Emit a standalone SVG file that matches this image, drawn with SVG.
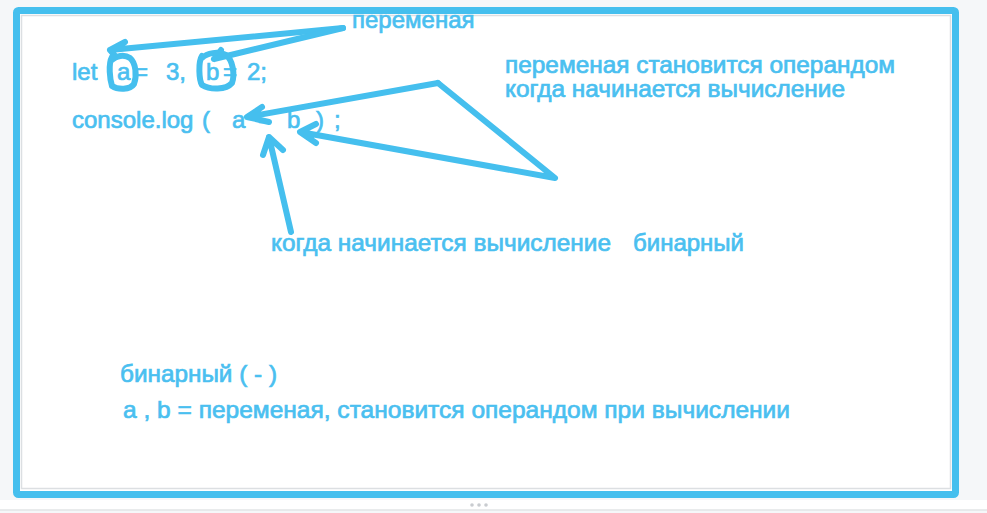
<svg xmlns="http://www.w3.org/2000/svg" width="987" height="513" viewBox="0 0 987 513">
<style>
.t{font-family:"Liberation Sans",Arial,sans-serif;font-size:24px;fill:#4abff0;stroke:#4abff0;stroke-width:0.7px}
.s{font-size:23px}
.c{fill:none;stroke:#45bfee;stroke-width:6;stroke-linecap:round;stroke-linejoin:round}
</style>
<rect x="0" y="0" width="987" height="513" fill="#f5f7f9"/>
<rect x="0" y="500" width="987" height="10" fill="#ffffff"/>
<line x1="0" y1="510" x2="987" y2="510" stroke="#e2e4e6" stroke-width="1.5"/>
<g fill="#c9ccd0"><circle cx="472" cy="505" r="1.8"/><circle cx="479" cy="505" r="1.8"/><circle cx="486" cy="505" r="1.8"/></g>
<g id="frame">
<rect x="16.5" y="10.5" width="939" height="484" rx="2" fill="#ffffff" stroke="#45bfee" stroke-width="7"/>
<rect x="21.5" y="15.5" width="929" height="473" fill="none" stroke="#dcdfe2" stroke-width="1.5"/>
</g>
<g id="label-peremennaya"><text class="t" x="352" y="28">переменая</text></g>
<g id="code-line1">
<text class="t" x="72" y="80">let</text>
<text class="t" x="117" y="80">a</text>
<text class="t" x="134" y="80">=</text>
<text class="t" x="166" y="80">3,</text>
<text class="t" x="206" y="80">b</text>
<text class="t" x="223" y="80">=</text>
<text class="t" x="247" y="80">2;</text>
</g>
<g id="code-line2">
<text class="t" x="72" y="128">console.log</text>
<text class="t" x="202" y="128">(</text>
<text class="t" x="232" y="128">a</text>
<text class="t" x="258" y="128">-</text>
<text class="t" x="287" y="128">b</text>
<text class="t" x="316" y="128">)</text>
<text class="t" x="334" y="128">;</text>
</g>
<g id="label-operand">
<text class="t s" x="505" y="73" textLength="390" lengthAdjust="spacingAndGlyphs">переменая становится операндом</text>
<text class="t s" x="505" y="97" textLength="340" lengthAdjust="spacingAndGlyphs">когда начинается вычисление</text>
</g>
<g id="label-binary">
<text class="t" x="271" y="251" textLength="340" lengthAdjust="spacingAndGlyphs">когда начинается вычисление</text>
<text class="t" x="633" y="251" textLength="111" lengthAdjust="spacingAndGlyphs">бинарный</text>
</g>
<g id="summary">
<text class="t" x="120" y="382" textLength="157" lengthAdjust="spacingAndGlyphs">бинарный ( - )</text>
<text class="t" x="123" y="418" textLength="667" lengthAdjust="spacingAndGlyphs">a , b = переменая, становится операндом при вычислении</text>
</g>
<g id="connectors">
<path class="c" d="M343,28 L110,50 M125,42 L110,50 L116,57"/>
<path class="c" d="M343,28 L214,59 M221,50 L214,59"/>
<path class="c" d="M112,57 C108,64 110,80 112,86 C118,90 130,90 134,84 C137,76 136,63 130,58 C124,54 116,56 112,60"/>
<path class="c" d="M202,56 C198,62 199,80 202,85 C210,90 226,90 232,83 C235,75 233,60 226,55 C218,51 207,53 202,58"/>
<path class="c" d="M438,83 L247,117 M262,107 L247,117 L269,122"/>
<path class="c" d="M438,83 L555,178 L300,132 M316,124 L300,132 L316,143"/>
<path class="c" d="M291,232 L269,137 M263,155 L269,137 L283,150"/>
</g>
</svg>
